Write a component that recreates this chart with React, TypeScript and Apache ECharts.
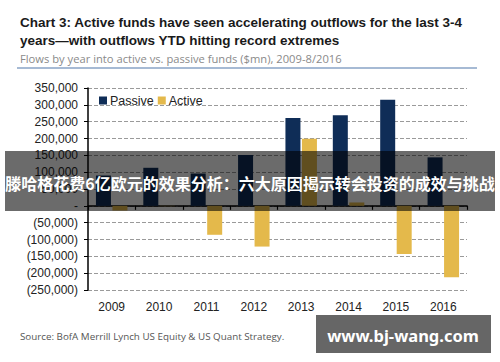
import React, { useEffect, useRef } from "react";
import * as echarts from "echarts";

const years = ["2009", "2010", "2011", "2012", "2013", "2014", "2015", "2016"];
const passive = [90000, 113000, 96000, 151000, 261000, 269000, 315000, 144000];
const active = [-14000, -1000, -86000, -121000, 199000, 10000, -143000, -212000];
const yMin = -250000;
const yMax = 350000;
const yStep = 50000;

const titleLine1 = "Chart 3: Active funds have seen accelerating outflows for the last 3-4";
const titleLine2 = "years\u2014with outflows YTD hitting record extremes";
const subtitle = "Flows by year into active vs. passive funds ($mn), 2009-8/2016";
const source = "Source: BofA Merrill Lynch US Equity & US Quant Strategy.";
const banner = "滕哈格花费6亿欧元的效果分析：六大原因揭示转会投资的成效与挑战";
const watermark = "www.bj-wang.com";

const fmt = (v: number) => {
  if (v === 0) return "-";
  const s = Math.abs(v).toLocaleString("en-US");
  return v < 0 ? "(" + s + ")" : s;
};

export default function App() {
  const ref = useRef<HTMLDivElement>(null);
  useEffect(() => {
    if (!ref.current) return;
    const chart = echarts.init(ref.current, null, { renderer: "svg" });
    const axisFont = "'Liberation Sans', Arial, sans-serif";
    chart.setOption({
      animation: false,
      backgroundColor: "#ffffff",
      grid: { left: 88, right: 33, top: 88, bottom: 72, containLabel: false },
      legend: {
        left: 94,
        top: 89,
        icon: "rect",
        itemWidth: 8,
        itemHeight: 8,
        itemGap: 4,
        textStyle: { fontFamily: axisFont, fontSize: 12.5, color: "#222", padding: [0, 0, 0, -2] },
        data: ["Passive", "Active"],
      },
      xAxis: [
        {
          type: "category",
          data: years,
          position: "bottom",
          axisLine: { show: false, onZero: false },
          axisTick: { show: false },
          axisLabel: { fontFamily: axisFont, fontSize: 12, color: "#222", margin: 11 },
          splitLine: { show: false },
        },
        {
          type: "category",
          data: years,
          position: "bottom",
          axisLine: { show: true, onZero: true, lineStyle: { color: "#000", width: 1.5 } },
          axisTick: { show: true, length: 4, lineStyle: { color: "#000", width: 1.2 } },
          axisLabel: { show: false },
          splitLine: { show: false },
        },
      ],
      yAxis: {
        type: "value",
        min: yMin,
        max: yMax,
        interval: yStep,
        axisLine: { show: true, lineStyle: { color: "#000", width: 1.5 } },
        axisTick: { show: true, length: 4, lineStyle: { color: "#000" } },
        axisLabel: {
          fontFamily: axisFont,
          fontSize: 12,
          color: "#222",
          margin: 10,
          formatter: fmt,
        },
        splitLine: { show: true, lineStyle: { color: "#9a9a9a", type: "dashed", width: 1 } },
      },
      series: [
        {
          name: "Passive",
          type: "bar",
          xAxisIndex: 0,
          data: passive,
          barWidth: 15,
          barGap: "10%",
          itemStyle: { color: "#0f2d57" },
        },
        {
          name: "Active",
          type: "bar",
          xAxisIndex: 0,
          data: active,
          barWidth: 15,
          itemStyle: { color: "#e4b94b" },
        },
      ],
      graphic: [
        {
          type: "text",
          left: 20,
          top: 15,
          style: {
            text: titleLine1,
            fontFamily: "'Liberation Sans', Arial, sans-serif",
            fontWeight: "bold",
            fontSize: 13.5,
            fill: "#1a1a1a",
          },
        },
        {
          type: "text",
          left: 20,
          top: 33,
          style: {
            text: titleLine2,
            fontFamily: "'Liberation Sans', Arial, sans-serif",
            fontWeight: "bold",
            fontSize: 13.5,
            fill: "#1a1a1a",
          },
        },
        {
          type: "text",
          left: 20,
          top: 53,
          style: {
            text: subtitle,
            fontFamily: "'Open Sans', sans-serif",
            fontSize: 11.2,
            fill: "#8a8a8a",
          },
        },
        {
          type: "line",
          shape: { x1: 17, y1: 68, x2: 477, y2: 68 },
          style: { stroke: "#4f77aa", lineWidth: 1.2 },
        },
        {
          type: "text",
          left: 20,
          top: 331,
          style: {
            text: source,
            fontFamily: "'Open Sans', sans-serif",
            fontSize: 9.8,
            fill: "#555",
          },
        },
        {
          type: "rect",
          z: 100,
          shape: { x: 5, y: 151, width: 490, height: 60 },
          style: { fill: "rgba(0,0,0,0.58)" },
        },
        {
          type: "text",
          z: 101,
          x: 250,
          y: 183,
          style: {
            text: banner,
            fontFamily: "'Noto Sans CJK SC', sans-serif",
            fontWeight: "bold",
            fontSize: 16,
            fill: "#ffffff",
            align: "center",
            verticalAlign: "middle",
          },
        },
        {
          type: "rect",
          z: 100,
          shape: { x: 316, y: 315, width: 175, height: 38 },
          style: { fill: "#666666" },
        },
        {
          type: "text",
          z: 101,
          x: 403,
          y: 335,
          style: {
            text: watermark,
            fontFamily: "'Noto Sans', sans-serif",
            fontWeight: "bold",
            fontSize: 16.5,
            fill: "#ffffff",
            align: "center",
            verticalAlign: "middle",
          },
        },
      ],
    });
    return () => chart.dispose();
  }, []);
  return (
    <div
      ref={ref}
      style={{ position: "fixed", left: 0, top: 0, width: 500, height: 362 }}
    />
  );
}
